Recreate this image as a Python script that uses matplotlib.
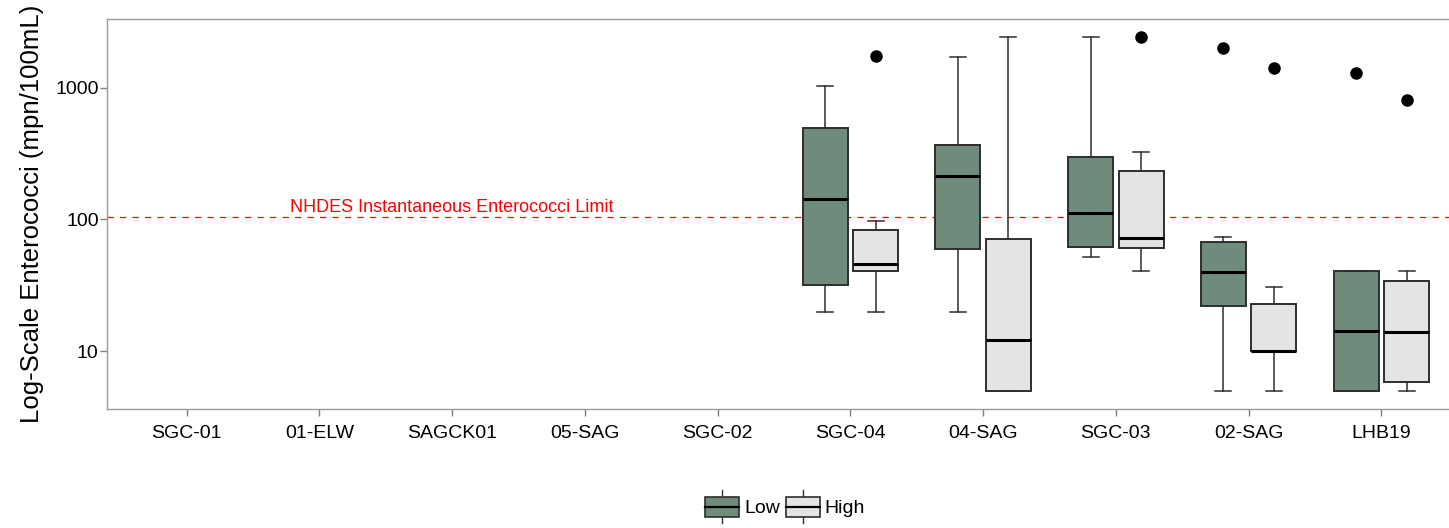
import numpy as np
import matplotlib.pyplot as plt
from matplotlib.patches import Rectangle
from matplotlib.lines import Line2D
from matplotlib.legend_handler import HandlerBase

plt.rcParams['font.family'] = ['Liberation Sans', 'DejaVu Sans']

# Sites along the x axis
sites = ['SGC-01', '01-ELW', 'SAGCK01', '05-SAG', 'SGC-02',
         'SGC-04', '04-SAG', 'SGC-03', '02-SAG', 'LHB19']

# Box summaries per flow condition: (site index, whisker low, Q1, median, Q3, whisker high, outliers)
low_flow = [
    (5, 20, 31.6, 143, 492, 1035, []),
    (6, 20, 60, 212, 366, 1720, []),
    (7, 52, 62, 112, 295, 2420, []),
    (8, 5, 22.2, 39.6, 67.7, 74, [1986]),
    (9, 5, 5, 14.2, 41, 41, [1300]),
]
high_flow = [
    (5, 20, 40.4, 45.6, 82.6, 97, [1727]),
    (6, 5, 5, 12.1, 71.5, 2420, []),
    (7, 40.4, 60.7, 72.6, 232, 324, [2420]),
    (8, 5, 10, 10, 23, 30.7, [1410]),
    (9, 5, 5.85, 14, 33.9, 41, [811]),
]
limit = 104  # NHDES instantaneous enterococci limit

low_color = '#6f8b7b'
high_color = '#e4e4e4'
edge = '#2e2e2e'


def to_stats(rows):
    return [dict(whislo=r[1], q1=r[2], med=r[3], q3=r[4], whishi=r[5], fliers=r[6])
            for r in rows]


fig = plt.figure(figsize=(14.49, 5.28), dpi=100)
ax = fig.add_axes([107 / 1449, 0.226, 1354 / 1449, 0.7375])

offset = 0.19
for rows, color, sign in [(low_flow, low_color, -1), (high_flow, high_color, 1)]:
    pos = [r[0] + sign * offset for r in rows]
    ax.bxp(to_stats(rows), positions=pos, widths=0.34, patch_artist=True,
           boxprops=dict(facecolor=color, edgecolor=edge, linewidth=1.4),
           medianprops=dict(color='black', linewidth=2.2, solid_capstyle='butt'),
           whiskerprops=dict(color=edge, linewidth=1.1),
           capprops=dict(color=edge, linewidth=1.1),
           capwidths=0.12,
           flierprops=dict(marker='o', markerfacecolor='black', markeredgecolor='black',
                           markersize=8),
           zorder=3)

ax.axhline(limit, color='red', linestyle=(0, (5, 5)), linewidth=0.9, zorder=2)
ax.text(2, limit * 1.03, 'NHDES Instantaneous Enterococci Limit', color='red',
        fontsize=13, ha='center', va='bottom')

ax.set_yscale('log')
ax.set_ylim(10 ** 0.565, 10 ** 3.518)
ax.set_yticks([10, 100, 1000])
ax.set_yticklabels(['10', '100', '1000'])
ax.yaxis.set_minor_locator(plt.NullLocator())
ax.set_xlim(-0.6, 9.6)
ax.set_xticks(range(len(sites)))
ax.set_xticklabels(sites)
ax.set_ylabel('Log-Scale Enterococci (mpn/100mL)', fontsize=18.5, labelpad=8)

for s in ax.spines.values():
    s.set_color('#9a9a9a')
    s.set_linewidth(1.0)
ax.tick_params(axis='both', colors='#7f7f7f', length=5, width=1.0, labelsize=14,
               labelcolor='black')
ax.tick_params(axis='x', pad=7)
ax.tick_params(axis='y', pad=1)


class BoxKey(HandlerBase):
    def create_artists(self, legend, orig_handle, xd, yd, width, height, fontsize, trans):
        x0, y0 = -xd, -yd
        box = Rectangle((x0, y0), width, height, facecolor=orig_handle.get_facecolor(),
                        edgecolor=edge, linewidth=1.2, transform=trans)
        mid = y0 + height / 2
        med = Line2D([x0, x0 + width], [mid, mid], color='black', linewidth=1.6,
                     transform=trans)
        top = Line2D([x0 + width / 2] * 2, [y0 + height, y0 + height + 4.5], color=edge,
                     linewidth=1.0, transform=trans)
        bot = Line2D([x0 + width / 2] * 2, [y0, y0 - 4.5], color=edge,
                     linewidth=1.0, transform=trans)
        return [top, bot, box, med]


handles = [Rectangle((0, 0), 1, 1, facecolor=low_color),
           Rectangle((0, 0), 1, 1, facecolor=high_color)]
fig.legend(handles, ['Low', 'High'], handler_map={Rectangle: BoxKey()},
           loc='center', bbox_to_anchor=(785 / 1449, 1 - 507 / 528), ncol=2,
           frameon=False, fontsize=14, handlelength=1.75, handleheight=1.2,
           handletextpad=0.25, columnspacing=0.3)

fig.savefig('out.png', dpi=100)
